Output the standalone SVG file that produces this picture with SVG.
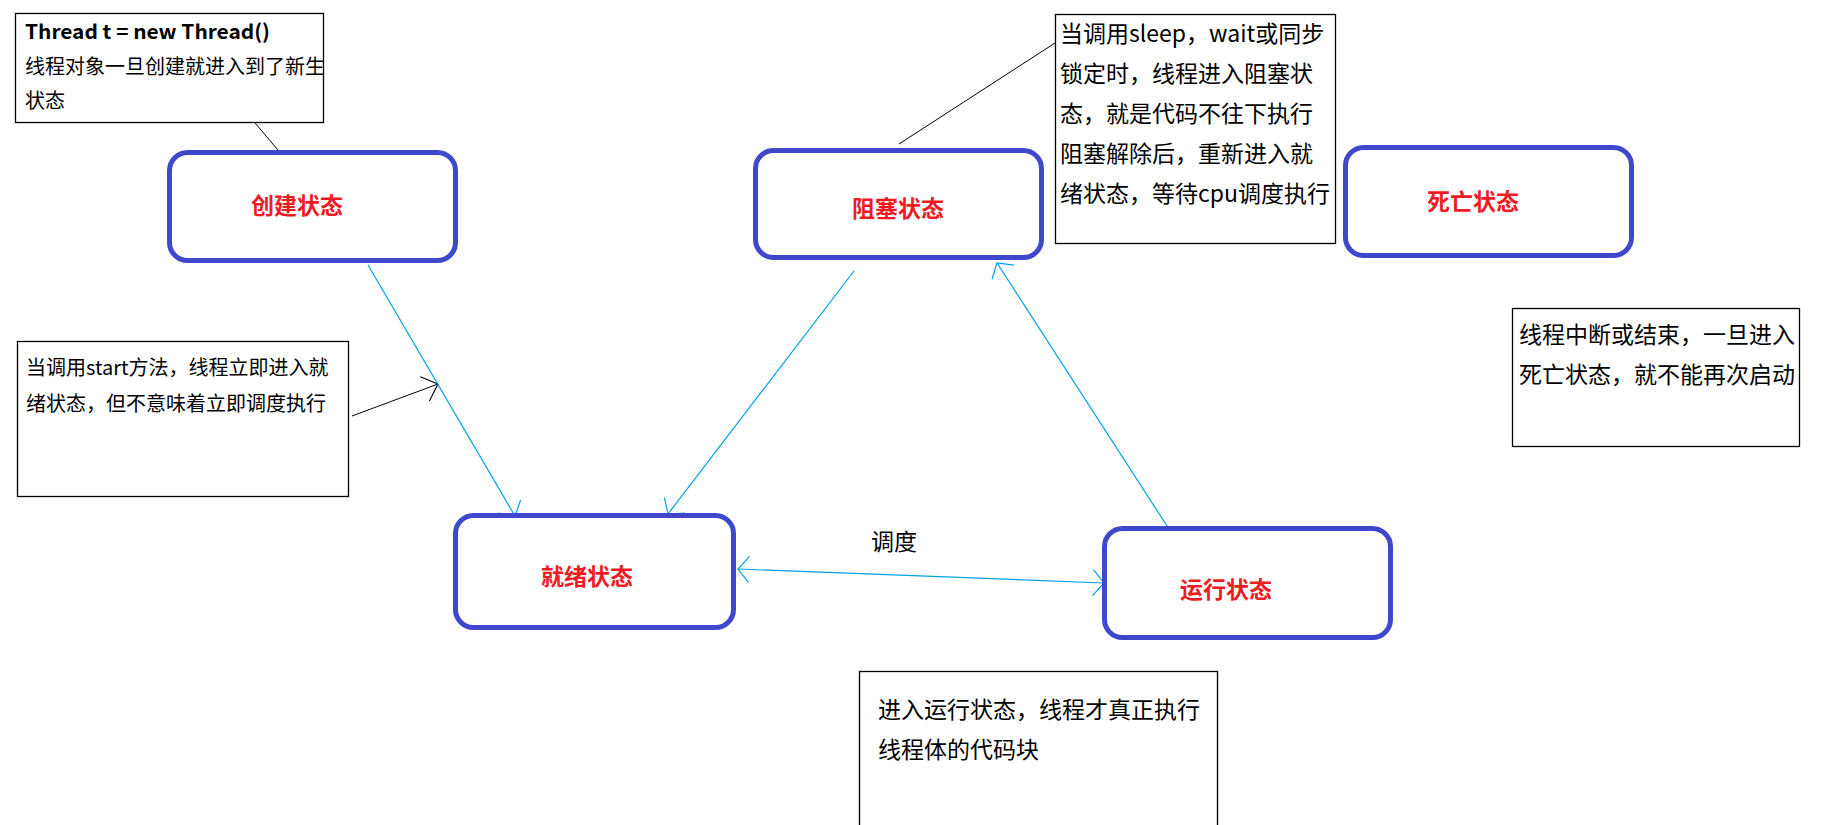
<svg xmlns="http://www.w3.org/2000/svg" width="1837" height="825" viewBox="0 0 1837 825">
  <style>
    .node { fill: #ffffff; stroke: #3F48CC; stroke-width: 5; }
    .label { font-family: "Noto Sans CJK SC", "Noto Sans", sans-serif; font-size: 23px; font-weight: bold; fill: #ED1C24; }
    .note { fill: #ffffff; stroke: #000000; stroke-width: 1.3; }
    .nt { font-family: "Noto Sans CJK SC", "Noto Sans", sans-serif; fill: #000000; }
    .s20 { font-size: 20px; }
    .s23 { font-size: 23px; }
    .conn { fill: none; stroke: #00A2E8; stroke-width: 1.2; }
    .lead { fill: none; stroke: #000000; stroke-width: 1; }
  </style>
  <defs>
    <marker id="arrB" viewBox="-16 -16 20 32" refX="0" refY="0" markerWidth="20" markerHeight="32" markerUnits="userSpaceOnUse" orient="auto-start-reverse">
      <path d="M-11,-13 L0,0 L-11,13" fill="none" stroke="#00A2E8" stroke-width="1.2"/>
    </marker>
    <marker id="arrK" viewBox="-18 -16 22 32" refX="0" refY="0" markerWidth="22" markerHeight="32" markerUnits="userSpaceOnUse" orient="auto">
      <path d="M-14,-13 L0,0 L-14,13" fill="none" stroke="#000000" stroke-width="1.1"/>
    </marker>
  </defs>
  <rect x="0" y="0" width="1837" height="825" fill="#ffffff"/>

  <g id="connectors">
    <line class="lead" x1="255" y1="123" x2="283" y2="156"/>
    <line class="lead" x1="899" y1="144" x2="1055" y2="43"/>
    <line class="lead" x1="352" y1="416" x2="438" y2="384" marker-end="url(#arrK)"/>
    <line class="conn" x1="368" y1="265" x2="515" y2="516" marker-end="url(#arrB)"/>
    <line class="conn" x1="854" y1="271" x2="668" y2="514" marker-end="url(#arrB)"/>
    <line class="conn" x1="1169" y1="529" x2="997" y2="263" marker-end="url(#arrB)"/>
    <line class="conn" x1="738" y1="569" x2="1104" y2="583" marker-start="url(#arrB)" marker-end="url(#arrB)"/>
    <text class="nt s23" x="871" y="550">调度</text>
  </g>

  <g id="node-create">
    <rect class="node" x="169.5" y="152.5" width="286" height="108" rx="18"/>
    <text class="label" x="251" y="214">创建状态</text>
  </g>
  <g id="node-blocked">
    <rect class="node" x="755.5" y="150.5" width="286" height="107" rx="18"/>
    <text class="label" x="852" y="217">阻塞状态</text>
  </g>
  <g id="node-dead">
    <rect class="node" x="1345.5" y="147.5" width="286" height="108" rx="18"/>
    <text class="label" x="1427" y="210">死亡状态</text>
  </g>
  <g id="node-ready">
    <rect class="node" x="455.5" y="515.5" width="278" height="112" rx="18"/>
    <text class="label" x="541" y="585">就绪状态</text>
  </g>
  <g id="node-running">
    <rect class="node" x="1104.5" y="528.5" width="286" height="109" rx="18"/>
    <text class="label" x="1180" y="598">运行状态</text>
  </g>

  <g id="note-new">
    <rect class="note" x="15.5" y="13.5" width="308" height="109"/>
    <text class="nt s20" x="25" y="39" font-weight="bold" textLength="245" lengthAdjust="spacingAndGlyphs">Thread t = new Thread()</text>
    <text class="nt s20" x="25" y="74">线程对象一旦创建就进入到了新生</text>
    <text class="nt s20" x="25" y="108">状态</text>
  </g>
  <g id="note-start">
    <rect class="note" x="17.5" y="341.5" width="331" height="155"/>
    <text class="nt s20" x="26" y="375">当调用start方法，线程立即进入就</text>
    <text class="nt s20" x="26" y="411">绪状态，但不意味着立即调度执行</text>
  </g>
  <g id="note-blocked">
    <rect class="note" x="1055.5" y="14.5" width="280" height="229"/>
    <text class="nt s23" x="1060" y="42">当调用sleep，wait或同步</text>
    <text class="nt s23" x="1060" y="82">锁定时，线程进入阻塞状</text>
    <text class="nt s23" x="1060" y="122">态，就是代码不往下执行</text>
    <text class="nt s23" x="1060" y="162">阻塞解除后，重新进入就</text>
    <text class="nt s23" x="1060" y="202">绪状态，等待cpu调度执行</text>
  </g>
  <g id="note-dead">
    <rect class="note" x="1512.5" y="308.5" width="287" height="138"/>
    <text class="nt s23" x="1519" y="343">线程中断或结束，一旦进入</text>
    <text class="nt s23" x="1519" y="383">死亡状态，就不能再次启动</text>
  </g>
  <g id="note-running">
    <rect class="note" x="859.5" y="671.5" width="358" height="170"/>
    <text class="nt s23" x="878" y="718">进入运行状态，线程才真正执行</text>
    <text class="nt s23" x="878" y="758">线程体的代码块</text>
  </g>
</svg>
